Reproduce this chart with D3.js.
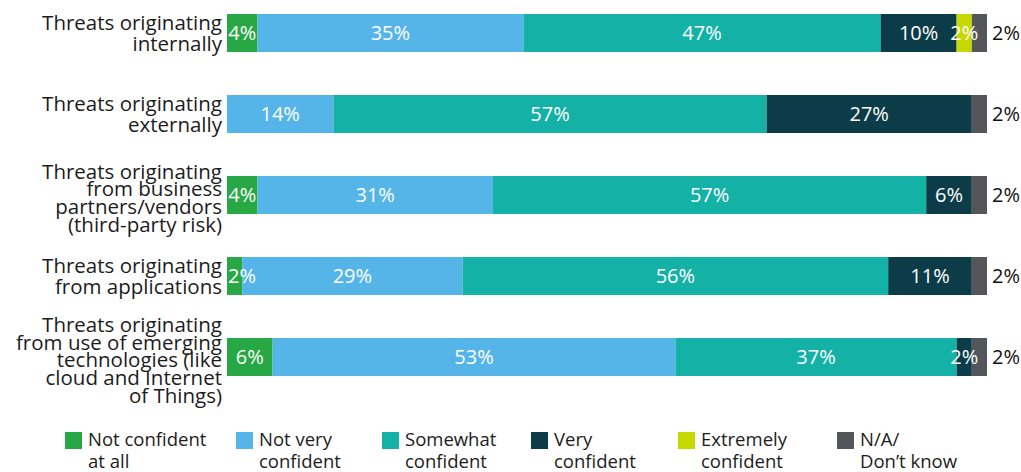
<!DOCTYPE html>
<html>
<head>
<meta charset="utf-8">
<script src="https://cdn.jsdelivr.net/npm/d3@7"></script>
<style>
  html, body { margin: 0; padding: 0; background: #ffffff; }
  svg { display: block; font-family: "Open Sans", "Noto Sans", sans-serif; }
</style>
</head>
<body>
<svg id="chart" width="1021" height="472"></svg>
<script>
// Confidence in managing each threat source (% of respondents)
const categories = [
  ["Threats originating", "internally"],
  ["Threats originating", "externally"],
  ["Threats originating", "from business", "partners/vendors", "(third-party risk)"],
  ["Threats originating", "from applications"],
  ["Threats originating", "from use of emerging", "technologies (like", "cloud and Internet", "of Things)"]
];
const seriesNames = ["Not confident at all", "Not very confident", "Somewhat confident", "Very confident", "Extremely confident", "N/A/ Don’t know"];
const legendLines = [
  ["Not confident", "at all"],
  ["Not very", "confident"],
  ["Somewhat", "confident"],
  ["Very", "confident"],
  ["Extremely", "confident"],
  ["N/A/", "Don’t know"]
];
const notConfident       = [4, 0, 4, 2, 6];
const notVeryConfident   = [35, 14, 31, 29, 53];
const somewhatConfident  = [47, 57, 57, 56, 37];
const veryConfident      = [10, 27, 6, 11, 2];
const extremelyConfident = [2, 0, 0, 0, 0];
const dontKnow           = [2, 2, 2, 2, 2];

const colors = ["#27a844", "#55b5e8", "#13b1a6", "#0c3c48", "#c5d800", "#54565a"];

const seriesValues = [notConfident, notVeryConfident, somewhatConfident, veryConfident, extremelyConfident, dontKnow];
const rows = categories.map((c, i) => {
  const r = { idx: i };
  seriesNames.forEach((s, k) => { r[s] = seriesValues[k][i]; });
  return r;
});

const svg = d3.select("#chart");

const x = d3.scaleLinear().domain([0, 100]).range([227, 987]);
const y = d3.scaleBand()
  .domain(d3.range(categories.length))
  .range([14, 376])
  .paddingInner(0.531)
  .paddingOuter(0);

const stacked = d3.stack().keys(seriesNames)(rows);
const color = d3.scaleOrdinal().domain(seriesNames).range(colors);

// Segments
const layers = svg.append("g").selectAll("g")
  .data(stacked)
  .join("g")
  .attr("fill", d => color(d.key));

layers.selectAll("rect")
  .data(d => d.map(p => ({ key: d.key, p })))
  .join("rect")
  .attr("x", d => x(d.p[0]))
  .attr("y", d => y(d.p.data.idx))
  .attr("width", d => x(d.p[1]) - x(d.p[0]))
  .attr("height", y.bandwidth());

// Value labels inside the segments (N/A values are written to the right of the bar)
const valueFont = 20;
const insideKeys = seriesNames.slice(0, 5);
const labelData = [];
stacked.forEach(layer => {
  if (!insideKeys.includes(layer.key)) return;
  layer.forEach(p => {
    const v = p[1] - p[0];
    if (v > 0) labelData.push({ v, cx: (x(p[0]) + x(p[1])) / 2, cy: y(p.data.idx) + y.bandwidth() / 2 });
  });
});

svg.append("g").selectAll("text")
  .data(labelData)
  .join("text")
  .attr("x", d => Math.max(d.cx, x(0) + 15))
  .attr("y", d => d.cy)
  .attr("dy", "0.36em")
  .attr("text-anchor", "middle")
  .attr("fill", "#ffffff")
  .attr("font-size", valueFont)
  .text(d => d.v + "%");

// N/A values to the right
svg.append("g").selectAll("text")
  .data(rows)
  .join("text")
  .attr("x", x(100) + 5)
  .attr("y", d => y(d.idx) + y.bandwidth() / 2)
  .attr("dy", "0.36em")
  .attr("fill", "#111111")
  .attr("font-size", 20)
  .text(d => d[seriesNames[5]] + "%");

// Category labels, right-aligned against the bars
const catG = svg.append("g");
categories.forEach((lines, i) => {
  const lh = lines.length > 2 ? 17.8 : 21.5;
  const cy = y(i) + y.bandwidth() / 2 + (lines.length > 2 ? 3 : 0);
  const t = catG.append("text")
    .attr("text-anchor", "end")
    .attr("fill", "#1c1c1c")
    .attr("font-size", 20.5);
  lines.forEach((ln, j) => {
    t.append("tspan")
      .attr("x", 222)
      .attr("y", cy + (j - (lines.length - 1) / 2) * lh)
      .attr("dy", "0.36em")
      .text(ln);
  });
});

// Legend
const legendX = [65, 236, 382, 531, 678, 837];
const legend = svg.append("g").selectAll("g")
  .data(seriesNames)
  .join("g")
  .attr("transform", (d, i) => `translate(${legendX[i]},432)`);

legend.append("rect")
  .attr("width", 17)
  .attr("height", 17)
  .attr("fill", d => color(d));

legend.append("text")
  .attr("fill", "#1c1c1c")
  .attr("font-size", 18.5)
  .each(function (d, i) {
    const t = d3.select(this);
    legendLines[i].forEach((ln, j) => {
      t.append("tspan").attr("x", 23).attr("y", 14 + j * 22).text(ln);
    });
  });
</script>
</body>
</html>
